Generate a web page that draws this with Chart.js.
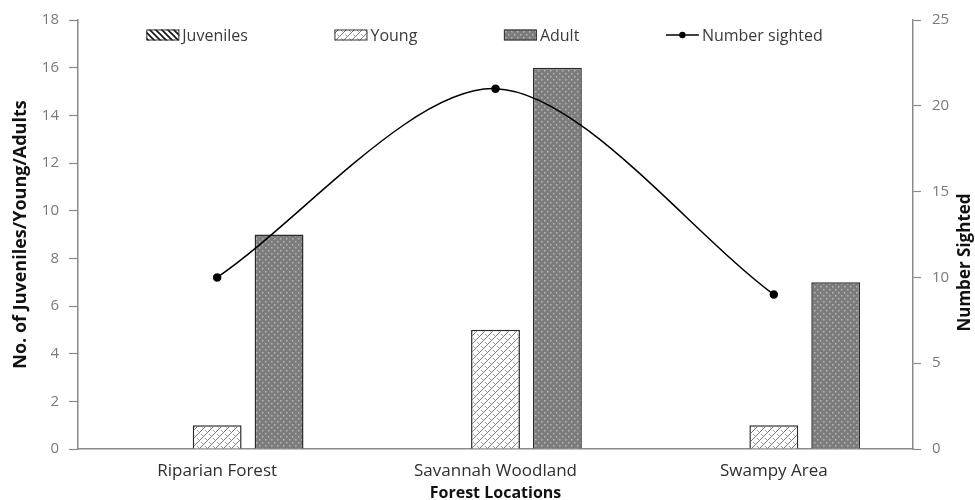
<!DOCTYPE html>
<html>
<head>
<meta charset="utf-8">
<script src="https://cdn.jsdelivr.net/npm/chart.js@4.4.0/dist/chart.umd.min.js"></script>
<style>
  html, body { margin: 0; padding: 0; background: #fff; }
  #wrap { width: 975px; height: 500px; }
</style>
</head>
<body>
<div id="wrap"><canvas id="myChart" width="975" height="500"></canvas></div>
<script>
const locations = ["Riparian Forest", "Savannah Woodland", "Swampy Area"];
const juveniles = [0, 0, 0];
const young = [1, 5, 1];
const adult = [9, 16, 7];
const numberSighted = [10, 21, 9];
const leftTicks = [0, 2, 4, 6, 8, 10, 12, 14, 16, 18];
const rightTicks = [0, 5, 10, 15, 20, 25];

const FONT = "'Open Sans'";
const canvas = document.getElementById("myChart");
const ctx = canvas.getContext("2d");

function makePattern(w, h, draw) {
  const c = document.createElement("canvas");
  c.width = w;
  c.height = h;
  draw(c.getContext("2d"), w, h);
  return ctx.createPattern(c, "repeat");
}

// diagonal stripes
const juvPattern = makePattern(6, 6, function (g, w, h) {
  g.fillStyle = "#fff";
  g.fillRect(0, 0, w, h);
  g.strokeStyle = "#111";
  g.lineWidth = 1.6;
  g.beginPath();
  g.moveTo(-1, -1); g.lineTo(w + 1, h + 1);
  g.moveTo(-1, h - 1); g.lineTo(1, h + 1);
  g.moveTo(w - 1, -1); g.lineTo(w + 1, 1);
  g.stroke();
});

// light weave
const youngPattern = makePattern(8, 8, function (g, w, h) {
  g.fillStyle = "#fff";
  g.fillRect(0, 0, w, h);
  g.strokeStyle = "#7a7a7a";
  g.lineWidth = 1;
  g.beginPath();
  g.moveTo(-1, h + 1); g.lineTo(w + 1, -1);
  g.stroke();
  g.strokeStyle = "#a8a8a8";
  g.beginPath();
  g.moveTo(1, 2); g.lineTo(3, 4);
  g.moveTo(5, 6); g.lineTo(7, 8);
  g.stroke();
});

// grey with light dots
const adultPattern = makePattern(6, 6, function (g, w, h) {
  g.fillStyle = "#7c7c7c";
  g.fillRect(0, 0, w, h);
  g.fillStyle = "#b6b6b6";
  g.fillRect(1, 1, 1.5, 1.5);
  g.fillRect(4, 4, 1.5, 1.5);
});

// legend spread across the top of the plot, Excel style
const topLegend = {
  id: "topLegend",
  afterDraw(chart) {
    const c = chart.ctx;
    const area = chart.chartArea;
    c.save();
    c.font = "16px " + FONT;
    const iconW = 33;
    const items = chart.data.datasets.map(function (ds) {
      return { ds: ds, w: iconW + 3 + c.measureText(ds.label).width };
    });
    const span = (area.right - area.left) * 0.81;
    let used = 0;
    items.forEach(function (it) { used += it.w; });
    const gap = (span - used) / (items.length - 1);
    let x = (area.left + area.right) / 2 - span / 2 - 11;
    const y = area.top + 15;
    items.forEach(function (it) {
      const ds = it.ds;
      if (ds.type === "line") {
        c.strokeStyle = "#000";
        c.lineWidth = 1.5;
        c.beginPath();
        c.moveTo(x, y); c.lineTo(x + iconW, y);
        c.stroke();
        c.fillStyle = "#000";
        c.beginPath();
        c.arc(x + iconW / 2, y, 3.2, 0, Math.PI * 2);
        c.fill();
      } else {
        c.fillStyle = ds.backgroundColor;
        c.fillRect(x, y - 5.5, iconW, 11);
        c.strokeStyle = "#333";
        c.lineWidth = 1;
        c.strokeRect(x + 0.5, y - 5, iconW - 1, 10);
      }
      c.fillStyle = "#3a3a3a";
      c.textBaseline = "middle";
      c.textAlign = "left";
      c.fillText(ds.label, x + iconW + 3, y + 1);
      x += it.w + gap;
    });
    c.restore();
  },
};

// right axis title reads bottom-to-top like the left one
const rightTitle = {
  id: "rightTitle",
  afterDraw(chart) {
    const c = chart.ctx;
    const area = chart.chartArea;
    c.save();
    c.translate(chart.width - 10, (area.top + area.bottom) / 2 + 28);
    c.rotate(-Math.PI / 2);
    c.font = "bold 17px " + FONT;
    c.fillStyle = "#111";
    c.textAlign = "center";
    c.textBaseline = "middle";
    c.fillText("Number Sighted", 0, 0);
    c.restore();
  },
};

const barCommon = {
  type: "bar",
  borderColor: "#2b2b2b",
  borderWidth: 1.5,
  categoryPercentage: 0.667,
  barPercentage: 0.79,
  yAxisID: "y",
  order: 1,
};

new Chart(ctx, {
  data: {
    labels: locations,
    datasets: [
      Object.assign({ label: "Juveniles", data: juveniles, backgroundColor: juvPattern }, barCommon),
      Object.assign({ label: "Young", data: young, backgroundColor: youngPattern }, barCommon),
      Object.assign({ label: "Adult", data: adult, backgroundColor: adultPattern }, barCommon),
      {
        type: "line",
        label: "Number sighted",
        data: numberSighted,
        yAxisID: "y1",
        borderColor: "#000",
        backgroundColor: "#000",
        borderWidth: 1.5,
        pointRadius: 3.5,
        pointBackgroundColor: "#000",
        tension: 0.3,
        order: 0,
      },
    ],
  },
  options: {
    responsive: false,
    animation: false,
    layout: { padding: { left: 8, right: 0, top: 12, bottom: 0 } },
    plugins: {
      legend: { display: false },
      tooltip: { enabled: false },
    },
    scales: {
      x: {
        afterFit(scale) { scale.height = 51; },
        grid: { display: false },
        border: { display: true, color: "#8a8a8a", width: 1.5 },
        ticks: { color: "#2e2e2e", font: { family: FONT, size: 17 }, padding: 4 },
        title: {
          display: true,
          text: "Forest Locations",
          color: "#111",
          font: { family: FONT, size: 16, weight: "bold" },
          padding: { top: 0, bottom: -3 },
        },
      },
      y: {
        position: "left",
        min: 0,
        max: 18,
        afterBuildTicks(scale) {
          scale.ticks = leftTicks.map(function (v) { return { value: v }; });
        },
        afterFit(scale) { scale.width = 70; },
        grid: { drawOnChartArea: false, color: "#8a8a8a", tickLength: 9, tickWidth: 1.2 },
        border: { color: "#8a8a8a", width: 1.5 },
        ticks: { color: "#7a7a7a", font: { family: FONT, size: 15 }, padding: 10 },
        title: {
          display: true,
          text: "No. of Juveniles/Young/Adults",
          color: "#111",
          font: { family: FONT, size: 18, weight: "bold" },
          padding: { top: 2, bottom: 4 },
        },
      },
      y1: {
        position: "right",
        min: 0,
        max: 25,
        afterBuildTicks(scale) {
          scale.ticks = rightTicks.map(function (v) { return { value: v }; });
        },
        afterFit(scale) { scale.width = 62; },
        grid: { drawOnChartArea: false, color: "#8a8a8a", tickLength: 8, tickWidth: 1.2 },
        border: { color: "#8a8a8a", width: 1.5 },
        ticks: { color: "#7a7a7a", font: { family: FONT, size: 15 }, padding: 11 },
      },
    },
  },
  plugins: [topLegend, rightTitle],
});
</script>
</body>
</html>
